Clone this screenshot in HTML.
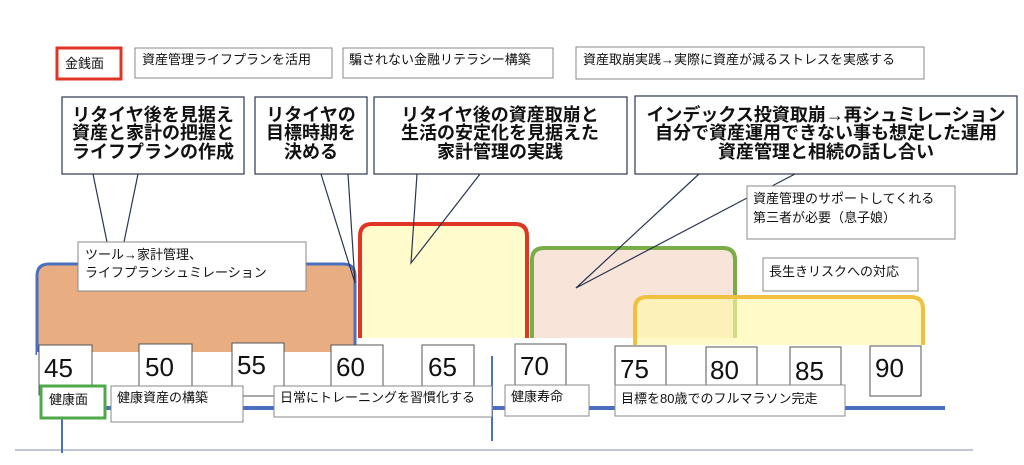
<!DOCTYPE html>
<html><head><meta charset="utf-8"><style>
html,body{margin:0;padding:0;background:#fff;}
svg{display:block;}
text{font-family:"Liberation Sans","Noto Sans CJK JP",sans-serif;fill:#111;}
.b{font-weight:bold;font-size:18px;}
.s{font-size:13px;}
.n{font-size:26px;}
</style></head><body>
<svg width="1024" height="465" viewBox="0 0 1024 465" xmlns="http://www.w3.org/2000/svg">
<!-- shapes -->
<path d="M37,355 L37,276 Q37,264 49,264 L343,264 Q355,264 355,276 L355,355" fill="#e8ad80" stroke="#4a6fc0" stroke-width="3"/>
<rect x="37" y="352" width="320" height="10" fill="#fff"/>
<path d="M360,338 L360,236 Q360,224 372,224 L515,224 Q527,224 527,236 L527,338" fill="#fffbcc" stroke="#e03424" stroke-width="4"/>
<path d="M532,338 L532,260 Q532,248 544,248 L723,248 Q735,248 735,260 L735,338" fill="#f8e4d8" stroke="#7aac48" stroke-width="4"/>
<path d="M635,345 L635,309 Q635,297 647,297 L911,297 Q923,297 923,309 L923,345" fill="rgba(255,247,170,0.65)" stroke="#f0c040" stroke-width="4"/>

<!-- callout tails -->
<g stroke="#2a3550" stroke-width="1.2" fill="none">
<path d="M93,174 L107,242 M138,174 L124,242"/>
<path d="M321,174 L355,283 L348,174"/>
<path d="M417,174 L411,263 L480,174"/>
<path d="M699,174 L576,288 L747,198"/>
<path d="M795,174 L772,186"/>
</g>

<!-- top label boxes -->
<rect x="57" y="48" width="64" height="31" fill="#fff" stroke="#e03424" stroke-width="3"/>
<text x="65" y="68" class="s">金銭面</text>
<rect x="135" y="48" width="197" height="30" fill="#fff" stroke="#888" stroke-width="1"/>
<text x="142" y="64" class="s">資産管理ライフプランを活用</text>
<rect x="343" y="48" width="210" height="30" fill="#fff" stroke="#888" stroke-width="1"/>
<text x="349" y="64" class="s">騙されない金融リテラシー構築</text>
<rect x="576" y="47" width="348" height="32" fill="#fff" stroke="#888" stroke-width="1"/>
<text x="583" y="64" class="s">資産取崩実践→実際に資産が減るストレスを実感する</text>

<!-- callouts -->
<g fill="#fff" stroke="#2a3550" stroke-width="1.2">
<rect x="62" y="97" width="182" height="77"/>
<rect x="255" y="97" width="112" height="77"/>
<rect x="374" y="97" width="253" height="77"/>
<rect x="635" y="96" width="382" height="78"/>
</g>
<g class="b" text-anchor="middle">
<text x="153" y="121" class="b">リタイヤ後を見据え</text>
<text x="153" y="139" class="b">資産と家計の把握と</text>
<text x="153" y="158" class="b">ライフプランの作成</text>
<text x="311" y="121" class="b">リタイヤの</text>
<text x="311" y="139" class="b">目標時期を</text>
<text x="311" y="158" class="b">決める</text>
<text x="500" y="121" class="b">リタイヤ後の資産取崩と</text>
<text x="500" y="139" class="b">生活の安定化を見据えた</text>
<text x="500" y="158" class="b">家計管理の実践</text>
<text x="826" y="121" class="b">インデックス投資取崩→再シュミレーション</text>
<text x="826" y="139" class="b">自分で資産運用できない事も想定した運用</text>
<text x="826" y="158" class="b">資産管理と相続の話し合い</text>
</g>

<!-- inner boxes -->
<rect x="747" y="186" width="208" height="53" fill="#fff" stroke="#888"/>
<text x="753" y="203" class="s">資産管理のサポートしてくれる</text>
<text x="753" y="222" class="s">第三者が必要（息子娘）</text>
<rect x="763" y="258" width="155" height="33" fill="#fff" stroke="#888"/>
<text x="769" y="276" class="s">長生きリスクへの対応</text>
<rect x="78" y="242" width="228" height="49" fill="#fff" stroke="#888"/>
<text x="85" y="259" class="s">ツール→家計管理、</text>
<text x="85" y="277" class="s">ライフプランシュミレーション</text>

<!-- timeline lines -->
<line x1="15" y1="450" x2="973" y2="450" stroke="#aab4cc" stroke-width="1.5"/>
<line x1="60" y1="408" x2="945" y2="408" stroke="#4a6fc0" stroke-width="4"/>
<line x1="62" y1="410" x2="62" y2="453" stroke="#4a6fc0" stroke-width="2"/>
<line x1="492" y1="356" x2="492" y2="441" stroke="#4a6fc0" stroke-width="2"/>

<!-- number boxes -->
<g fill="#fff" stroke="#555" stroke-width="1">
<rect x="39" y="345" width="53" height="50"/>
<rect x="139" y="344" width="53" height="50"/>
<rect x="232" y="343" width="52" height="53"/>
<rect x="331" y="345" width="52" height="50"/>
<rect x="422" y="345" width="52" height="50"/>
<rect x="515" y="344" width="51" height="50"/>
<rect x="615" y="346" width="51" height="50"/>
<rect x="706" y="347" width="51" height="50"/>
<rect x="790" y="347" width="51" height="50"/>
<rect x="870" y="346" width="51" height="50"/>
</g>
<g class="n">
<text x="44" y="377" class="n">45</text>
<text x="145" y="376" class="n">50</text>
<text x="237" y="374" class="n">55</text>
<text x="336" y="376" class="n">60</text>
<text x="428" y="376" class="n">65</text>
<text x="520" y="375" class="n">70</text>
<text x="620" y="378" class="n">75</text>
<text x="710" y="379" class="n">80</text>
<text x="795" y="380" class="n">85</text>
<text x="875" y="377" class="n">90</text>
</g>

<!-- bottom label boxes -->
<rect x="41" y="386" width="64" height="32" fill="#fff" stroke="#4fa84a" stroke-width="3"/>
<text x="49" y="404" class="s">健康面</text>
<rect x="111" y="386" width="132" height="36" fill="#fff" stroke="#888"/>
<text x="117" y="402" class="s">健康資産の構築</text>
<rect x="274" y="386" width="218" height="31" fill="#fff" stroke="#888"/>
<text x="280" y="402" class="s">日常にトレーニングを習慣化する</text>
<rect x="505" y="385" width="84" height="31" fill="#fff" stroke="#888"/>
<text x="511" y="401" class="s">健康寿命</text>
<rect x="615" y="385" width="230" height="31" fill="#fff" stroke="#888"/>
<text x="621" y="403" class="s">目標を80歳でのフルマラソン完走</text>
</svg>
</body></html>
